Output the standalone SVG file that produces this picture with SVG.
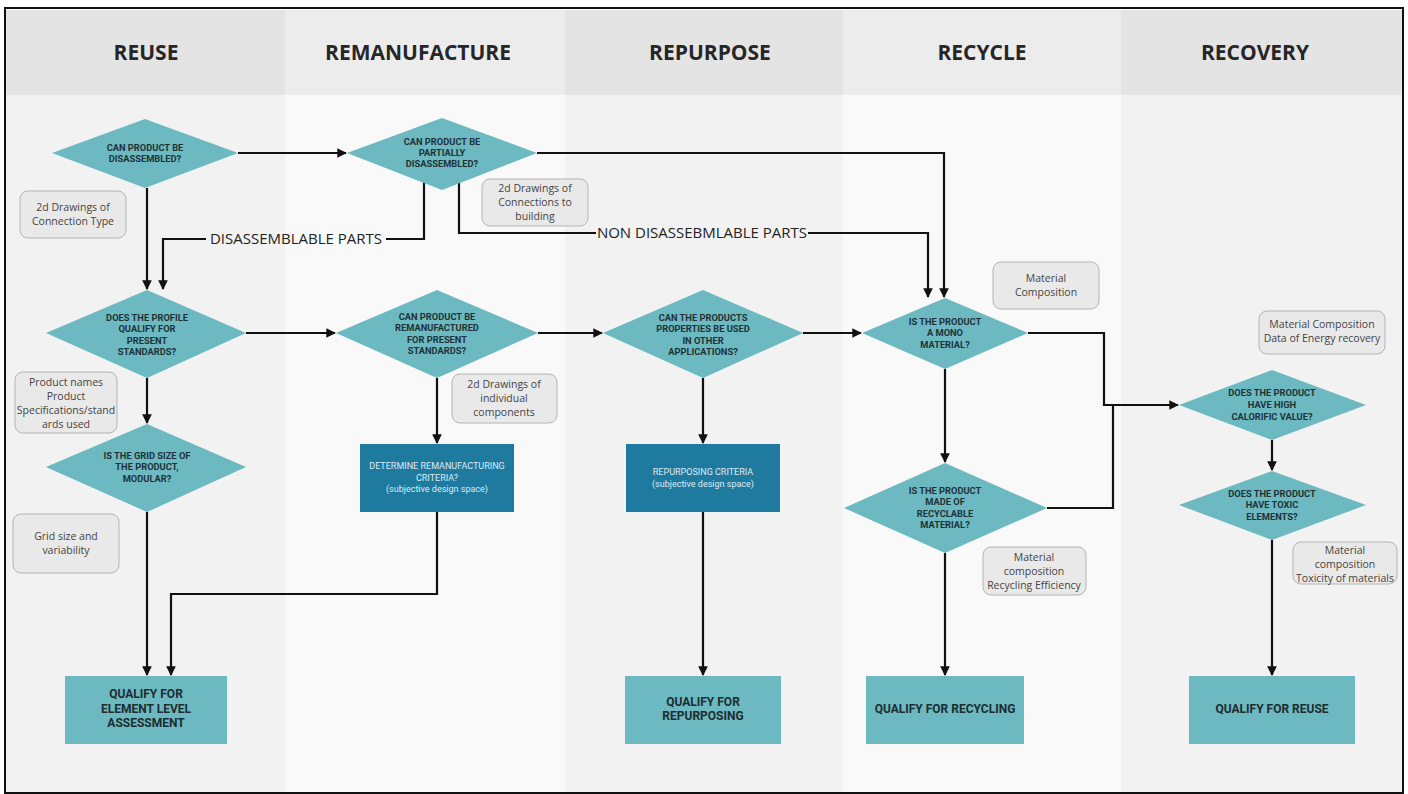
<svg xmlns="http://www.w3.org/2000/svg" width="1408" height="794" viewBox="0 0 1408 794">
<defs>
<style>
.hd{font-family:"Open Sans",sans-serif;font-weight:700;font-size:21px;fill:#262626;text-anchor:middle}
.dia{fill:#6cb9c1}
.dt{font-family:Roboto,"Liberation Sans",sans-serif;font-weight:700;font-size:9.3px;fill:#1f3236;text-anchor:middle}
.note{fill:#e9e9e9;stroke:#b4b4b4;stroke-width:1}
.nt{font-family:"Open Sans",sans-serif;font-size:10.5px;fill:#444;text-anchor:middle}
.dark{fill:#1f7aa0}
.dkt{font-family:Roboto,"Liberation Sans",sans-serif;font-size:9px;fill:#dcecf2;text-anchor:middle}
.res{fill:#6cb9c1}
.rt{font-family:Roboto,"Liberation Sans",sans-serif;font-weight:700;font-size:12px;fill:#1d2d30;text-anchor:middle}
.ln{fill:none;stroke:#111;stroke-width:2.2}
.arr{fill:none;stroke:#111;stroke-width:2.2;marker-end:url(#ah)}
.lbl{font-family:"Open Sans",sans-serif;font-size:15px;fill:#222}
</style>
<marker id="ah" viewBox="0 0 10 10" refX="9" refY="5" markerWidth="4.4" markerHeight="4.4" orient="auto" markerUnits="strokeWidth">
<path d="M0,0 L10,5 L0,10 z" fill="#111"/>
</marker>
</defs>
<rect x="0" y="0" width="1408" height="794" fill="#fff"/>
<g id="lanes">
<rect x="6" y="10" width="279" height="782" fill="#f2f2f2"/>
<rect x="285" y="10" width="280" height="782" fill="#f9f9f9"/>
<rect x="565" y="10" width="278" height="782" fill="#f2f2f2"/>
<rect x="843" y="10" width="278" height="782" fill="#f9f9f9"/>
<rect x="1121" y="10" width="281" height="782" fill="#f2f2f2"/>
<rect x="6" y="10" width="279" height="85" fill="#e4e4e4"/>
<rect x="285" y="10" width="280" height="85" fill="#ececec"/>
<rect x="565" y="10" width="278" height="85" fill="#e4e4e4"/>
<rect x="843" y="10" width="278" height="85" fill="#ececec"/>
<rect x="1121" y="10" width="281" height="85" fill="#e4e4e4"/>
<text class="hd" x="146" y="60">REUSE</text>
<text class="hd" x="418" y="60">REMANUFACTURE</text>
<text class="hd" x="710" y="60">REPURPOSE</text>
<text class="hd" x="982" y="60">RECYCLE</text>
<text class="hd" x="1255" y="60">RECOVERY</text>
</g>
<rect x="5" y="8" width="1398" height="785" fill="none" stroke="#111" stroke-width="2"/>

<g id="connectors">
<path class="arr" d="M238,153 H346"/>
<path class="arr" d="M537,153 H944 V297"/>
<path class="arr" d="M147,188 V289"/>
<path class="ln" d="M424,182 V239 H386"/>
<path class="arr" d="M206,239 H163 V289"/>
<text class="lbl" x="296" y="244" text-anchor="middle">DISASSEMBLABLE PARTS</text>
<path class="ln" d="M459,182 V233 H596"/>
<path class="arr" d="M808,233 H928 V297"/>
<text class="lbl" x="702" y="238" text-anchor="middle">NON DISASSEBMLABLE PARTS</text>
<path class="arr" d="M246,333 H335"/>
<path class="arr" d="M538,333 H602"/>
<path class="arr" d="M803,333 H861"/>
<path class="arr" d="M1028,333 H1104 V405 H1178"/>
<path class="ln" d="M1047,508 H1113 V405"/>
<path class="arr" d="M147,378 V423"/>
<path class="arr" d="M147,512 V675"/>
<path class="arr" d="M437,378 V443"/>
<path class="arr" d="M437,512 V594 H171 V675"/>
<path class="arr" d="M703,378 V443"/>
<path class="arr" d="M703,512 V675"/>
<path class="arr" d="M945,369 V462"/>
<path class="arr" d="M945,553 V675"/>
<path class="arr" d="M1272,440 V470"/>
<path class="arr" d="M1272,540 V675"/>
</g>

<g id="d1">
<polygon class="dia" points="52,153 145,119 238,153 145,188"/>
<text class="dt" x="145" y="151">CAN PRODUCT BE</text>
<text class="dt" x="145" y="162">DISASSEMBLED?</text>
</g>
<g id="d2">
<polygon class="dia" points="347,153 442,118 537,153 442,190"/>
<text class="dt" x="442" y="145">CAN PRODUCT BE</text>
<text class="dt" x="442" y="156">PARTIALLY</text>
<text class="dt" x="442" y="167">DISASSEMBLED?</text>
</g>
<g id="d3">
<polygon class="dia" points="46,333 147,290 246,333 147,378"/>
<text class="dt" x="147" y="321">DOES THE PROFILE</text>
<text class="dt" x="147" y="332">QUALIFY FOR</text>
<text class="dt" x="147" y="344">PRESENT</text>
<text class="dt" x="147" y="355">STANDARDS?</text>
</g>
<g id="d4">
<polygon class="dia" points="46,467 147,424 246,467 147,512"/>
<text class="dt" x="147" y="459">IS THE GRID SIZE OF</text>
<text class="dt" x="147" y="470">THE PRODUCT,</text>
<text class="dt" x="147" y="482">MODULAR?</text>
</g>
<g id="d5">
<polygon class="dia" points="336,333 437,290 538,333 437,378"/>
<text class="dt" x="437" y="320">CAN PRODUCT BE</text>
<text class="dt" x="437" y="331">REMANUFACTURED</text>
<text class="dt" x="437" y="343">FOR PRESENT</text>
<text class="dt" x="437" y="354">STANDARDS?</text>
</g>
<g id="d6">
<polygon class="dia" points="603,333 703,290 803,333 703,378"/>
<text class="dt" x="703" y="321">CAN THE PRODUCTS</text>
<text class="dt" x="703" y="332">PROPERTIES BE USED</text>
<text class="dt" x="703" y="344">IN OTHER</text>
<text class="dt" x="703" y="355">APPLICATIONS?</text>
</g>
<g id="d7">
<polygon class="dia" points="862,333 945,298 1028,333 945,369"/>
<text class="dt" x="945" y="325">IS THE PRODUCT</text>
<text class="dt" x="945" y="336">A MONO</text>
<text class="dt" x="945" y="348">MATERIAL?</text>
</g>
<g id="d8">
<polygon class="dia" points="844,508 945,463 1047,508 945,553"/>
<text class="dt" x="945" y="494">IS THE PRODUCT</text>
<text class="dt" x="945" y="505">MADE OF</text>
<text class="dt" x="945" y="517">RECYCLABLE</text>
<text class="dt" x="945" y="528">MATERIAL?</text>
</g>
<g id="d9">
<polygon class="dia" points="1179,405 1272,370 1366,405 1272,440"/>
<text class="dt" x="1272" y="396">DOES THE PRODUCT</text>
<text class="dt" x="1272" y="408">HAVE HIGH</text>
<text class="dt" x="1272" y="420">CALORIFIC VALUE?</text>
</g>
<g id="d10">
<polygon class="dia" points="1179,505 1272,471 1366,505 1272,540"/>
<text class="dt" x="1272" y="497">DOES THE PRODUCT</text>
<text class="dt" x="1272" y="508">HAVE TOXIC</text>
<text class="dt" x="1272" y="520">ELEMENTS?</text>
</g>

<g id="n1">
<rect class="note" x="20" y="191" width="106" height="47" rx="8"/>
<text class="nt" x="73" y="211">2d Drawings of</text>
<text class="nt" x="73" y="225">Connection Type</text>
</g>
<g id="n2">
<rect class="note" x="482" y="179" width="106" height="47" rx="8"/>
<text class="nt" x="535" y="192">2d Drawings of</text>
<text class="nt" x="535" y="206">Connections to</text>
<text class="nt" x="535" y="220">building</text>
</g>
<g id="n3">
<rect class="note" x="15" y="372" width="102" height="61" rx="8"/>
<text class="nt" x="66" y="386">Product names</text>
<text class="nt" x="66" y="400">Product</text>
<text class="nt" x="66" y="414">Specifications/stand</text>
<text class="nt" x="66" y="428">ards used</text>
</g>
<g id="n4">
<rect class="note" x="13" y="514" width="106" height="59" rx="8"/>
<text class="nt" x="66" y="540">Grid size and</text>
<text class="nt" x="66" y="554">variability</text>
</g>
<g id="n5">
<rect class="note" x="452" y="374" width="105" height="49" rx="8"/>
<text class="nt" x="504" y="388">2d Drawings of</text>
<text class="nt" x="504" y="402">individual</text>
<text class="nt" x="504" y="416">components</text>
</g>
<g id="n6">
<rect class="note" x="993" y="262" width="106" height="47" rx="8"/>
<text class="nt" x="1046" y="282">Material</text>
<text class="nt" x="1046" y="296">Composition</text>
</g>
<g id="n7">
<rect class="note" x="1259" y="311" width="126" height="43" rx="8"/>
<text class="nt" x="1322" y="328">Material Composition</text>
<text class="nt" x="1322" y="342">Data of Energy recovery</text>
</g>
<g id="n8">
<rect class="note" x="983" y="547" width="103" height="48" rx="8"/>
<text class="nt" x="1034" y="561">Material</text>
<text class="nt" x="1034" y="575">composition</text>
<text class="nt" x="1034" y="589">Recycling Efficiency</text>
</g>
<g id="n9">
<rect class="note" x="1293" y="542" width="104" height="42" rx="8"/>
<text class="nt" x="1345" y="554">Material</text>
<text class="nt" x="1345" y="568">composition</text>
<text class="nt" x="1345" y="582">Toxicity of materials</text>
</g>

<g id="b1">
<rect class="dark" x="360" y="444" width="154" height="68"/>
<text class="dkt" x="437" y="469">DETERMINE REMANUFACTURING</text>
<text class="dkt" x="437" y="481">CRITERIA?</text>
<text class="dkt" x="437" y="492">(subjective design space)</text>
</g>
<g id="b2">
<rect class="dark" x="626" y="444" width="154" height="68"/>
<text class="dkt" x="703" y="475">REPURPOSING CRITERIA</text>
<text class="dkt" x="703" y="487">(subjective design space)</text>
</g>

<g id="r1">
<rect class="res" x="65" y="676" width="162" height="68"/>
<text class="rt" x="146" y="698">QUALIFY FOR</text>
<text class="rt" x="146" y="713">ELEMENT LEVEL</text>
<text class="rt" x="146" y="727">ASSESSMENT</text>
</g>
<g id="r2">
<rect class="res" x="625" y="676" width="156" height="68"/>
<text class="rt" x="703" y="706">QUALIFY FOR</text>
<text class="rt" x="703" y="720">REPURPOSING</text>
</g>
<g id="r3">
<rect class="res" x="866" y="676" width="158" height="68"/>
<text class="rt" x="945" y="713">QUALIFY FOR RECYCLING</text>
</g>
<g id="r4">
<rect class="res" x="1189" y="676" width="166" height="68"/>
<text class="rt" x="1272" y="713">QUALIFY FOR REUSE</text>
</g>
</svg>
